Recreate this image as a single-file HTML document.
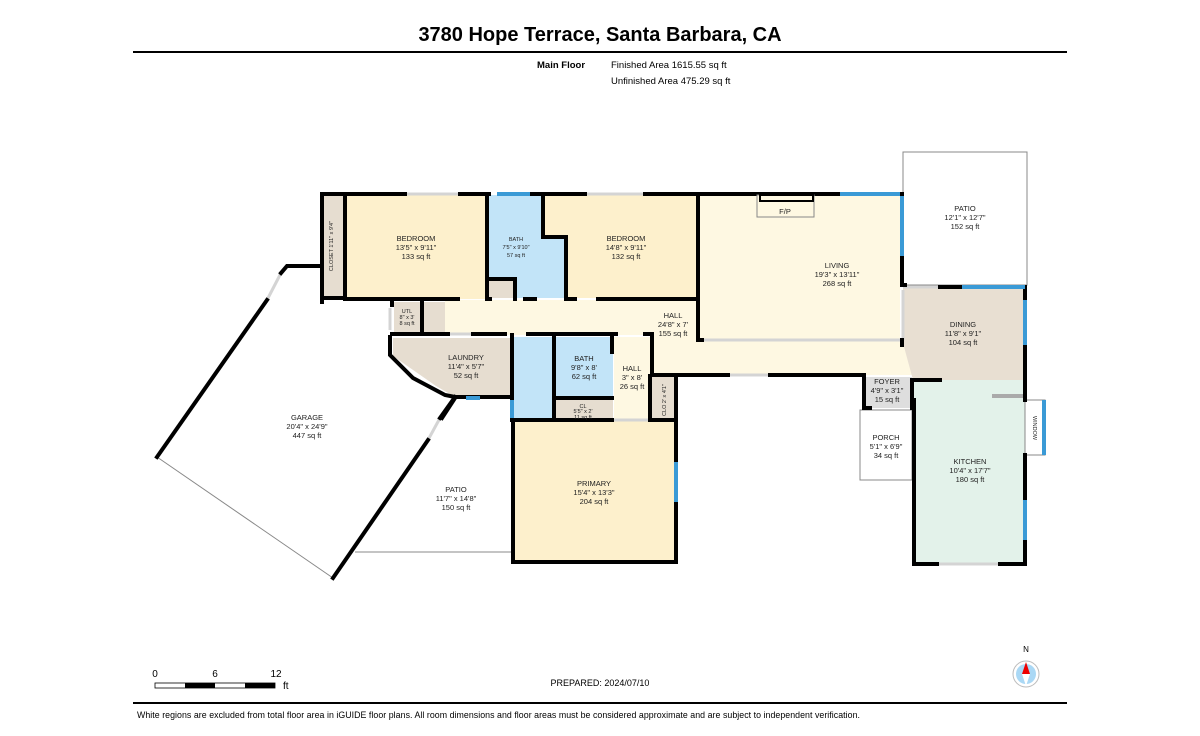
<!DOCTYPE html>
<html><head><meta charset="utf-8"><style>
html,body{margin:0;padding:0;background:#fff;}
svg{display:block;font-family:"Liberation Sans",sans-serif;}
.l{font-size:7.5px;fill:#222;text-anchor:middle;}
.s{font-size:5.5px;fill:#222;text-anchor:middle;}
</style></head><body>
<svg width="1200" height="736" viewBox="0 0 1200 736" xmlns="http://www.w3.org/2000/svg">
<text x="600" y="41" font-size="20" font-weight="bold" text-anchor="middle" fill="#000">3780 Hope Terrace, Santa Barbara, CA</text>
<rect x="133" y="51" width="934" height="2" fill="#000"/>
<text x="537" y="68" font-size="9.5" font-weight="bold" fill="#000">Main Floor</text>
<text x="611" y="68" font-size="9.5" fill="#000">Finished Area 1615.55 sq ft</text>
<text x="611" y="84" font-size="9.5" fill="#000">Unfinished Area 475.29 sq ft</text>

<!-- fills -->
<g stroke="none">
<rect x="322" y="194" width="23" height="104" fill="#e6ddd0"/>
<rect x="345" y="195" width="142" height="104" fill="#fdf0cc"/>
<polygon points="489,195 542,195 542,237 565,237 565,298 489,298" fill="#c2e4f8"/>
<polygon points="545,195 697,195 697,298 568,298 568,237 545,237" fill="#fdf0cc"/>
<rect x="489" y="279" width="26" height="19" fill="#e6ddd0"/>
<polygon points="445,300 697,300 697,338 905,338 913,375 652,375 652,335 445,335" fill="#fef8e2"/>
<rect x="394" y="302" width="28" height="31" fill="#e6ddd0"/>
<rect x="424" y="302" width="21" height="31" fill="#e6ddd0"/>
<polygon points="393,338 512,338 512,397 455,397 436,386 393,356" fill="#e6ddd0"/>
<rect x="514" y="337" width="39" height="83" fill="#c2e4f8"/>
<rect x="555" y="337" width="58" height="61" fill="#c2e4f8"/>
<rect x="555" y="398" width="58" height="22" fill="#e6ddd0"/>
<rect x="614" y="337" width="36" height="83" fill="#fef8e2"/>
<rect x="650" y="376" width="24" height="44" fill="#e6ddd0"/>
<rect x="513" y="420" width="163" height="142" fill="#fdf0cc"/>
<rect x="700" y="195" width="200" height="145" fill="#fef8e2"/>
<polygon points="903,287 1025,287 1025,380 913,380 903,343" fill="#e8dfd2"/>
<rect x="864" y="377" width="48" height="31" fill="#dedede"/>
<rect x="914" y="380" width="111" height="184" fill="#e3f2ea"/>
</g>

<!-- outlines (unfinished) -->
<g fill="none" stroke="#888" stroke-width="1">
<rect x="903" y="152" width="124" height="133"/>
<rect x="860" y="410" width="52" height="70"/>
<line x1="355" y1="552" x2="512" y2="552"/>
<line x1="157" y1="457" x2="333" y2="578"/>
<line x1="512" y1="440" x2="512" y2="495"/>
<rect x="1025" y="400" width="20" height="55" fill="#fff"/>
</g>
<!-- gray openings -->
<g stroke="#d4d4d4" stroke-width="3" fill="none">
<line x1="405" y1="194" x2="460" y2="194"/>
<line x1="585" y1="194" x2="645" y2="194"/>
<line x1="700" y1="340" x2="900" y2="340"/>
<line x1="728" y1="375" x2="770" y2="375"/>
<line x1="937" y1="564" x2="1000" y2="564"/>
<line x1="281" y1="273" x2="267" y2="300"/>
<line x1="428" y1="440" x2="440" y2="418"/>
<line x1="448" y1="334" x2="473" y2="334"/>
<line x1="903" y1="287" x2="940" y2="287"/>
<line x1="903" y1="290" x2="903" y2="340"/>
<line x1="390" y1="308" x2="390" y2="330"/>
<line x1="613" y1="420" x2="650" y2="420"/>
</g>
<rect x="992" y="394" width="33" height="4" fill="#aaa"/>

<!-- walls -->
<g fill="none" stroke="#000" stroke-width="4" stroke-linecap="square">
<polyline points="322,302 322,194 405,194"/>
<line x1="460" y1="194" x2="489" y2="194"/>
<line x1="530" y1="194" x2="585" y2="194"/>
<line x1="645" y1="194" x2="840" y2="194"/>
<polyline points="345,195 345,298"/>
<line x1="322" y1="298" x2="345" y2="298"/>
<line x1="345" y1="299" x2="458" y2="299"/>
<polyline points="487,195 487,299"/>
<polyline points="543,195 543,237 566,237 566,299"/>
<line x1="489" y1="279" x2="515" y2="279"/><line x1="515" y1="279" x2="515" y2="299"/>
<line x1="487" y1="299" x2="490" y2="299"/>
<line x1="525" y1="299" x2="535" y2="299"/>
<line x1="566" y1="299" x2="575" y2="299"/>
<line x1="598" y1="299" x2="697" y2="299"/>
<polyline points="698,195 698,340"/>
<line x1="392" y1="302" x2="392" y2="305"/>
<line x1="422" y1="302" x2="422" y2="334"/>
<line x1="392" y1="334" x2="448" y2="334"/>
<line x1="473" y1="334" x2="505" y2="334"/>
<line x1="528" y1="334" x2="616" y2="334"/>
<line x1="645" y1="334" x2="652" y2="334"/>
<polyline points="652,334 652,375 728,375"/>
<line x1="770" y1="375" x2="864" y2="375"/>
<polyline points="864,375 864,408 870,408"/>
<polyline points="390,337 390,355 413,378 445,395 455,397 512,397"/>
<line x1="455" y1="398" x2="442" y2="418"/>
<polyline points="512,335 512,420"/>
<line x1="554" y1="337" x2="554" y2="420"/>
<line x1="612" y1="337" x2="612" y2="352"/>
<line x1="650" y1="376" x2="650" y2="420"/>
<line x1="676" y1="375" x2="676" y2="562"/>
<polyline points="513,420 513,562 676,562"/>
<line x1="513" y1="420" x2="612" y2="420"/>
<line x1="650" y1="420" x2="676" y2="420"/>
<line x1="554" y1="398" x2="612" y2="398"/>
<polyline points="320,266 287,266 281,273"/>
<line x1="267" y1="300" x2="157" y2="457"/>
<line x1="333" y1="578" x2="428" y2="440"/>
<line x1="440" y1="418" x2="455" y2="397"/>
<line x1="700" y1="340" x2="702" y2="340"/>
<polyline points="902,194 902,285 905,285"/>
<line x1="940" y1="287" x2="962" y2="287"/>
<polyline points="1025,287 1025,300"/>
<line x1="1025" y1="345" x2="1025" y2="400"/>
<polyline points="912,408 912,380 940,380"/>
<polyline points="914,400 914,564 937,564"/>
<line x1="1000" y1="564" x2="1025" y2="564"/>
<line x1="1025" y1="455" x2="1025" y2="500"/>
<line x1="1025" y1="540" x2="1025" y2="564"/>
<line x1="902" y1="340" x2="902" y2="345"/>
</g>
<!-- windows -->
<g stroke="#3a9ad6" stroke-width="4" fill="none">
<line x1="497" y1="194" x2="530" y2="194"/>
<line x1="840" y1="194" x2="900" y2="194"/>
<line x1="902" y1="196" x2="902" y2="256"/>
<line x1="962" y1="287" x2="1025" y2="287"/>
<line x1="1025" y1="300" x2="1025" y2="345"/>
<line x1="1025" y1="500" x2="1025" y2="540"/>
<line x1="1044" y1="400" x2="1044" y2="455"/>
<line x1="466" y1="398" x2="480" y2="398"/>
<line x1="512" y1="400" x2="512" y2="418"/>
<line x1="676" y1="462" x2="676" y2="502"/>
</g>
<!-- fireplace -->
<rect x="757" y="195" width="57" height="22" fill="#fef8e2" stroke="#888" stroke-width="1"/>
<rect x="760" y="195" width="53" height="6" fill="none" stroke="#000" stroke-width="2"/>
<text x="785" y="214" class="l">F/P</text>

<!-- labels -->
<g>
<text class="l" x="416" y="241">BEDROOM</text><text class="l" x="416" y="250">13'5" x 9'11"</text><text class="l" x="416" y="259">133 sq ft</text>
<text class="s" x="516" y="241">BATH</text><text class="s" x="516" y="249">7'5" x 9'10"</text><text class="s" x="516" y="257">57 sq ft</text>
<text class="l" x="626" y="241">BEDROOM</text><text class="l" x="626" y="250">14'8" x 9'11"</text><text class="l" x="626" y="259">132 sq ft</text>
<text class="l" x="673" y="318">HALL</text><text class="l" x="673" y="327">24'8" x 7'</text><text class="l" x="673" y="336">155 sq ft</text>
<text class="l" x="466" y="360">LAUNDRY</text><text class="l" x="466" y="369">11'4" x 5'7"</text><text class="l" x="466" y="378">52 sq ft</text>
<text class="l" x="584" y="361">BATH</text><text class="l" x="584" y="370">9'8" x 8'</text><text class="l" x="584" y="379">62 sq ft</text>
<text class="s" x="583" y="408">CL</text><text class="s" x="583" y="413">5'5" x 2'</text><text class="s" x="583" y="419">11 sq ft</text>
<text class="l" x="632" y="371">HALL</text><text class="l" x="632" y="380">3" x 8'</text><text class="l" x="632" y="389">26 sq ft</text>
<text class="s" x="407" y="313">UTL</text><text class="s" x="407" y="319">8" x 3'</text><text class="s" x="407" y="325">8 sq ft</text>
<text class="l" x="307" y="420">GARAGE</text><text class="l" x="307" y="429">20'4" x 24'9"</text><text class="l" x="307" y="438">447 sq ft</text>
<text class="l" x="456" y="492">PATIO</text><text class="l" x="456" y="501">11'7" x 14'8"</text><text class="l" x="456" y="510">150 sq ft</text>
<text class="l" x="594" y="486">PRIMARY</text><text class="l" x="594" y="495">15'4" x 13'3"</text><text class="l" x="594" y="504">204 sq ft</text>
<text class="l" x="837" y="268">LIVING</text><text class="l" x="837" y="277">19'3" x 13'11"</text><text class="l" x="837" y="286">268 sq ft</text>
<text class="l" x="965" y="211">PATIO</text><text class="l" x="965" y="220">12'1" x 12'7"</text><text class="l" x="965" y="229">152 sq ft</text>
<text class="l" x="963" y="327">DINING</text><text class="l" x="963" y="336">11'8" x 9'1"</text><text class="l" x="963" y="345">104 sq ft</text>
<text class="l" x="887" y="384">FOYER</text><text class="l" x="887" y="393">4'9" x 3'1"</text><text class="l" x="887" y="402">15 sq ft</text>
<text class="l" x="886" y="440">PORCH</text><text class="l" x="886" y="449">5'1" x 6'9"</text><text class="l" x="886" y="458">34 sq ft</text>
<text class="l" x="970" y="464">KITCHEN</text><text class="l" x="970" y="473">10'4" x 17'7"</text><text class="l" x="970" y="482">180 sq ft</text>
<text class="s" x="0" y="0" transform="translate(333,246) rotate(-90)">CLOSET 1'11" x 9'4"</text>
<text class="s" x="0" y="0" transform="translate(666,400) rotate(-90)">CLO 2' x 4'1"</text>
<text class="s" x="0" y="0" transform="translate(1033,428) rotate(90)">WINDOW</text>
</g>

<!-- scale bar -->
<text x="155" y="677" font-size="10" text-anchor="middle">0</text>
<text x="215" y="677" font-size="10" text-anchor="middle">6</text>
<text x="276" y="677" font-size="10" text-anchor="middle">12</text>
<rect x="155" y="683" width="120" height="5" fill="#fff" stroke="#000" stroke-width="0.8"/>
<rect x="185" y="683" width="30" height="5" fill="#000"/>
<rect x="245" y="683" width="30" height="5" fill="#000"/>
<text x="283" y="689" font-size="10">ft</text>
<text x="600" y="686" font-size="9" text-anchor="middle">PREPARED: 2024/07/10</text>
<!-- compass -->
<text x="1026" y="652" font-size="8" text-anchor="middle">N</text>
<circle cx="1026" cy="674" r="13" fill="#fff" stroke="#bbb" stroke-width="1"/>
<circle cx="1026" cy="674" r="10" fill="#aad8f5"/>
<polygon points="1026,662 1022,674 1030,674" fill="#e00"/>
<polygon points="1026,686 1022,674 1030,674" fill="#fff"/>
<rect x="133" y="702" width="934" height="2" fill="#000"/>
<text x="137" y="718" font-size="8.8" fill="#000" textLength="723">White regions are excluded from total floor area in iGUIDE floor plans. All room dimensions and floor areas must be considered approximate and are subject to independent verification.</text>
</svg>
</body></html>
